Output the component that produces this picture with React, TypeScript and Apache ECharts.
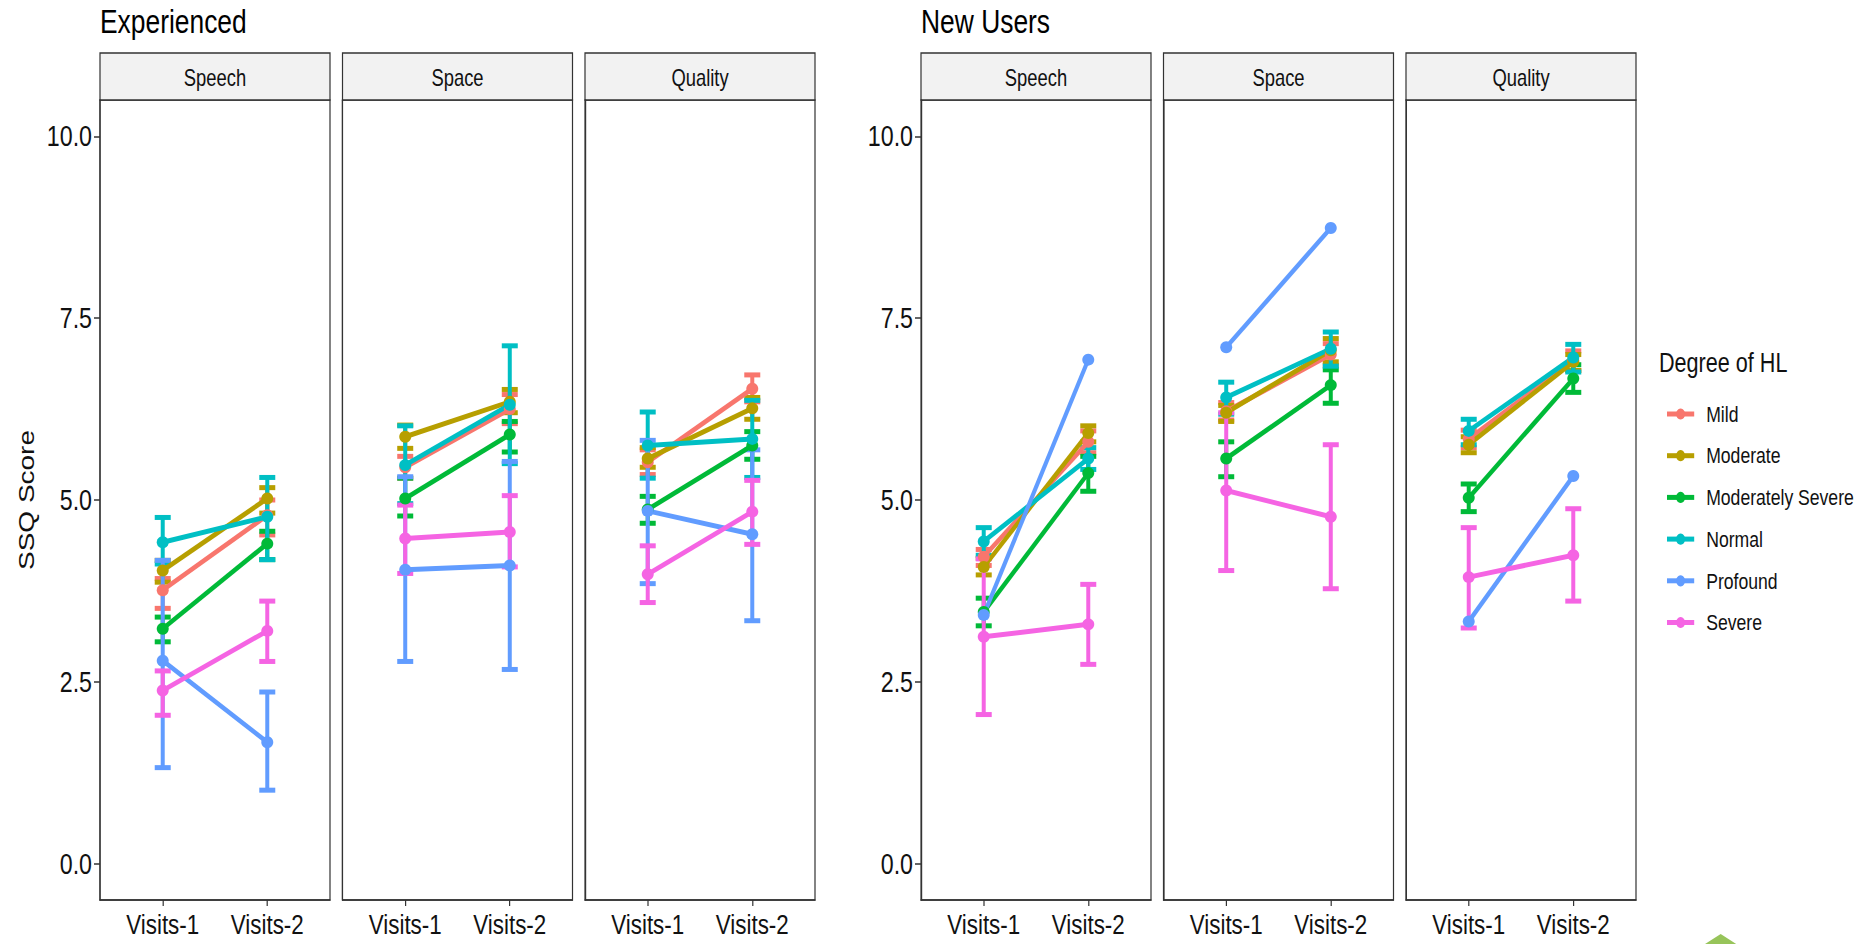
import React, { useEffect, useRef } from "react";
import * as echarts from "echarts";

// ---------- data ----------
const degrees = ["Mild", "Moderate", "Moderately Severe", "Normal", "Profound", "Severe"];
const degreeColors = ["#F8766D", "#B79F00", "#00BA38", "#00BFC4", "#619CFF", "#F564E3"];
const visits = ["Visits-1", "Visits-2"];
const visitPos = [1, 2];
const facets = ["Speech", "Space", "Quality"];
const groups = ["Experienced", "New Users"];
const yTicks = [0, 2.5, 5, 7.5, 10];

// rows follow `degrees`, columns follow `visits`
const expSpeechMean = [[3.76, 4.79], [4.03, 5.02], [3.23, 4.4], [4.42, 4.77], [2.79, 1.67], [2.38, 3.2]];
const expSpeechLo = [[3.51, 4.52], [3.87, 4.82], [3.05, 4.18], [4.12, 4.18], [1.32, 1.01], [2.04, 2.78]];
const expSpeechHi = [[3.92, 5.0], [4.17, 5.17], [3.39, 4.57], [4.76, 5.31], [4.17, 2.36], [2.65, 3.61]];

const expSpaceMean = [[5.45, 6.25], [5.87, 6.35], [5.02, 5.9], [5.48, 6.31], [4.04, 4.1], [4.47, 4.56]];
const expSpaceLo = [[5.3, 6.05], [5.71, 6.2], [4.78, 5.66], [4.95, 5.5], [2.78, 2.67], [3.99, 4.08]];
const expSpaceHi = [[5.6, 6.45], [6.03, 6.52], [5.3, 6.08], [6.02, 7.12], [5.32, 5.53], [4.93, 5.06]];

const expQualityMean = [[5.52, 6.53], [5.57, 6.26], [4.87, 5.75], [5.75, 5.84], [4.85, 4.53], [3.98, 4.84]];
const expQualityLo = [[5.35, 6.35], [5.45, 6.11], [4.68, 5.56], [5.3, 5.31], [3.85, 3.34], [3.59, 4.39]];
const expQualityHi = [[5.69, 6.72], [5.72, 6.41], [5.05, 5.94], [6.21, 6.37], [5.82, 5.69], [4.37, 5.27]];

const newSpeechMean = [[4.22, 5.8], [4.08, 5.92], [3.46, 5.37], [4.43, 5.57], [3.42, 6.93], [3.12, 3.29]];
const newSpeechLo = [[4.1, 5.65], [3.97, 5.8], [3.27, 5.12], [4.24, 5.42], null, [2.05, 2.74]];
const newSpeechHi = [[4.32, 5.95], [4.2, 6.02], [3.65, 5.6], [4.62, 5.72], null, [4.19, 3.84]];

const newSpaceMean = [[6.22, 7.0], [6.2, 7.06], [5.57, 6.58], [6.41, 7.08], [7.1, 8.74], [5.13, 4.77]];
const newSpaceLo = [[6.1, 6.85], [6.08, 6.9], [5.32, 6.33], [6.18, 6.84], null, [4.03, 3.78]];
const newSpaceHi = [[6.34, 7.15], [6.3, 7.22], [5.8, 6.79], [6.62, 7.31], null, [6.2, 5.76]];

const newQualityMean = [[5.84, 6.92], [5.76, 6.9], [5.03, 6.67], [5.95, 6.96], [3.33, 5.33], [3.94, 4.24]];
const newQualityLo = [[5.72, 6.78], [5.65, 6.78], [4.84, 6.48], [5.76, 6.76], null, [3.24, 3.61]];
const newQualityHi = [[5.96, 7.05], [5.87, 7.0], [5.22, 6.86], [6.11, 7.14], null, [4.62, 4.88]];

// ---------- layout ----------
const SX = 0.8; // horizontal squeeze of the whole picture
const W = 1865 / SX;
const H = 944;
const FONT = "'Liberation Sans', Arial, sans-serif";
const TXT = "#111";
const panelLeftsReal = [100, 342.5, 585, 921, 1163.5, 1406];
const panelWReal = 230;
const gridTop = 100;
const gridH = 800;
const stripTop = 53;
const stripH = 47;
const LW = 5;

const panels = [
  { g: 0, f: 0, mean: expSpeechMean, lo: expSpeechLo, hi: expSpeechHi },
  { g: 0, f: 1, mean: expSpaceMean, lo: expSpaceLo, hi: expSpaceHi },
  { g: 0, f: 2, mean: expQualityMean, lo: expQualityLo, hi: expQualityHi },
  { g: 1, f: 0, mean: newSpeechMean, lo: newSpeechLo, hi: newSpeechHi },
  { g: 1, f: 1, mean: newSpaceMean, lo: newSpaceLo, hi: newSpaceHi },
  { g: 1, f: 2, mean: newQualityMean, lo: newQualityLo, hi: newQualityHi },
];

function buildOption() {
  const lefts = panelLeftsReal.map((l) => l / SX);
  const pw = panelWReal / SX;

  const grid = panels.map((_, i) => ({
    left: lefts[i],
    top: gridTop,
    width: pw,
    height: gridH,
    show: true,
    borderColor: "#333",
    borderWidth: 1.5,
    backgroundColor: "transparent",
  }));

  const xAxis = panels.map((_, i) => ({
    type: "value",
    gridIndex: i,
    min: 0.4,
    max: 2.6,
    splitLine: { show: false },
    axisLine: { show: true, onZero: false, lineStyle: { color: "#333", width: 1.5 } },
    axisTick: { show: true, length: 6, customValues: visitPos, lineStyle: { color: "#333", width: 1.5 } },
    axisLabel: {
      customValues: visitPos,
      formatter: (v: number) => visits[Math.round(v) - 1] ?? "",
      fontSize: 28,
      color: TXT,
      margin: 10,
      fontFamily: FONT,
    },
  }));

  const yAxis = panels.map((p, i) => {
    const first = p.f === 0;
    return {
      type: "value",
      gridIndex: i,
      min: -0.5,
      max: 10.5,
      splitLine: { show: false },
      axisLine: { show: true, onZero: false, lineStyle: { color: "#333", width: 1.5 } },
      axisTick: { show: first, length: 7.5, customValues: yTicks, lineStyle: { color: "#333", width: 1.5 } },
      axisLabel: {
        show: first,
        customValues: yTicks,
        formatter: (v: number) => v.toFixed(1),
        fontSize: 29,
        color: TXT,
        margin: 10,
        fontFamily: FONT,
      },
    };
  });

  const lineSeries: any[] = [];
  const barSeries: any[] = [];
  panels.forEach((p, i) => {
    degrees.forEach((name, d) => {
      const color = degreeColors[d];
      lineSeries.push({
        type: "line",
        name,
        xAxisIndex: i,
        yAxisIndex: i,
        z: 3,
        data: visitPos.map((x, k) => [x, p.mean[d][k]]),
        symbol: "circle",
        symbolSize: [15, 12],
        showSymbol: true,
        lineStyle: { width: LW, color },
        itemStyle: { color },
      });
      const lo = p.lo[d];
      const hi = p.hi[d];
      if (lo && hi) {
        barSeries.push({
          type: "custom",
          name,
          xAxisIndex: i,
          yAxisIndex: i,
          z: 2,
          itemStyle: { color },
          encode: { x: 0, y: [1, 2] },
          data: visitPos.map((x, k) => [x, lo[k], hi[k]]),
          renderItem: (params: any, api: any) => {
            const x = api.value(0);
            const a = api.coord([x, api.value(1)]);
            const b = api.coord([x, api.value(2)]);
            const hw = 10;
            const st = { stroke: color, lineWidth: LW };
            return {
              type: "group",
              children: [
                { type: "line", shape: { x1: a[0], y1: a[1], x2: b[0], y2: b[1] }, style: st },
                { type: "line", shape: { x1: a[0] - hw, y1: a[1], x2: a[0] + hw, y2: a[1] }, style: st },
                { type: "line", shape: { x1: b[0] - hw, y1: b[1], x2: b[0] + hw, y2: b[1] }, style: st },
              ],
            };
          },
        });
      }
    });
  });

  const graphic: any[] = [];
  panels.forEach((p, i) => {
    graphic.push({
      type: "rect",
      shape: { x: lefts[i], y: stripTop, width: pw, height: stripH },
      style: { fill: "#F2F2F2", stroke: "#333", lineWidth: 1.5 },
    });
    graphic.push({
      type: "text",
      x: lefts[i] + pw / 2,
      y: stripTop + stripH / 2 + 1,
      style: {
        text: facets[p.f],
        fontSize: 23,
        fontFamily: FONT,
        fill: TXT,
        textAlign: "center",
        textVerticalAlign: "middle",
      },
    });
  });
  groups.forEach((g, gi) => {
    graphic.push({
      type: "text",
      x: lefts[gi * 3],
      y: 21,
      style: {
        text: g,
        fontSize: 33,
        fontFamily: FONT,
        fill: "#000",
        textAlign: "left",
        textVerticalAlign: "middle",
      },
    });
  });
  graphic.push({
    type: "text",
    x: 26 / SX,
    y: 500,
    rotation: Math.PI / 2,
    style: {
      text: "SSQ Score",
      fontSize: 28,
      fontFamily: FONT,
      fill: TXT,
      textAlign: "center",
      textVerticalAlign: "middle",
    },
  });
  graphic.push({
    type: "text",
    x: 1659 / SX,
    y: 363,
    style: {
      text: "Degree of HL",
      fontSize: 27,
      fontFamily: FONT,
      fill: TXT,
      textAlign: "left",
      textVerticalAlign: "middle",
    },
  });
  graphic.push({
    type: "polygon",
    shape: {
      points: [
        [1720.7 / SX, 934],
        [1680 / SX, 960],
        [1761 / SX, 960],
      ],
    },
    style: { fill: "#97C45A" },
  });

  return {
    animation: false,
    backgroundColor: "#fff",
    textStyle: { fontFamily: FONT },
    grid,
    xAxis,
    yAxis,
    series: [...lineSeries, ...barSeries],
    graphic,
    legend: {
      orient: "vertical",
      left: 1661 / SX,
      top: 398,
      itemWidth: 34,
      itemHeight: 14,
      itemGap: 19.7,
      data: degrees,
      lineStyle: { width: 5 },
      itemStyle: { borderWidth: 0 },
      textStyle: { fontSize: 22, lineHeight: 22, color: TXT, fontFamily: FONT, padding: [0, 0, 0, 10] },
    },
  };
}

export default function App() {
  const ref = useRef<HTMLDivElement>(null);
  useEffect(() => {
    if (!ref.current) return;
    const chart = echarts.init(ref.current, undefined, { renderer: "svg" });
    chart.setOption(buildOption() as any);
    return () => chart.dispose();
  }, []);
  return (
    <div
      ref={ref}
      style={{
        position: "fixed",
        left: 0,
        top: 0,
        width: W,
        height: H,
        transform: `scaleX(${SX})`,
        transformOrigin: "0 0",
        background: "#fff",
      }}
    />
  );
}
